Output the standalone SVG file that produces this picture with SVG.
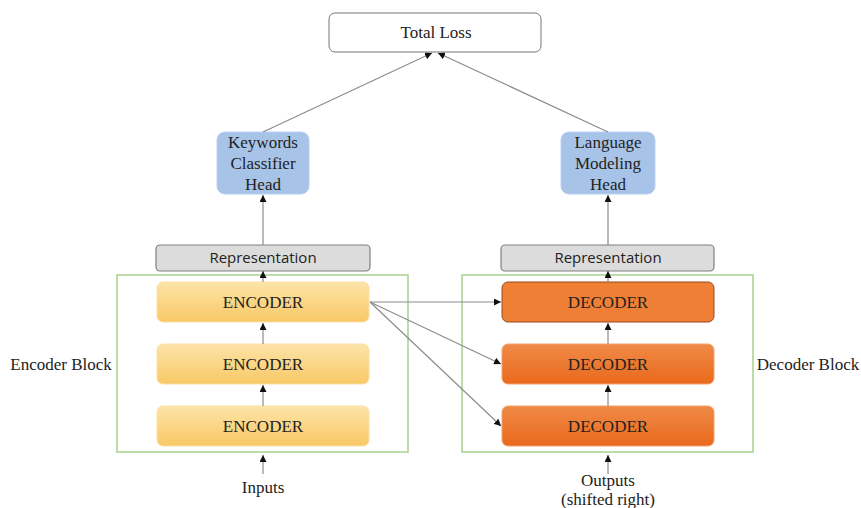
<svg xmlns="http://www.w3.org/2000/svg" width="861" height="508" viewBox="0 0 861 508">
<defs>
<style>
.serif{font-family:"Liberation Serif","Times New Roman",serif;fill:#222;text-anchor:middle;font-size:17px}
.sans{font-family:"Open Sans","Noto Sans",sans-serif;fill:#222;text-anchor:middle;font-size:15px}
.conn{stroke:#8c8c8c;stroke-width:1.2;fill:none;marker-end:url(#ah)}
.block{fill:none;stroke:#a9cf8e;stroke-width:1.5}
.rep{fill:#dcdcdc;stroke:#7f7f7f;stroke-width:1.2}
.head{fill:#a8c3e8;stroke:#b8cff0;stroke-width:1}
.enc{fill:url(#encg);stroke:#fbe0a6;stroke-width:1}
.dec{fill:url(#decg);stroke:#f2a26c;stroke-width:1}
</style>
<linearGradient id="encg" x1="0" y1="0" x2="0" y2="1">
<stop offset="0" stop-color="#fde4a8"/><stop offset="1" stop-color="#f8c865"/>
</linearGradient>
<linearGradient id="decg" x1="0" y1="0" x2="0" y2="1">
<stop offset="0" stop-color="#f08a48"/><stop offset="1" stop-color="#e9691b"/>
</linearGradient>
<marker id="ah" viewBox="0 0 10 10" refX="10" refY="5" markerWidth="7" markerHeight="7" markerUnits="userSpaceOnUse" orient="auto">
<path d="M0,0 L10,5 L0,10 z" fill="#111"/>
</marker>
</defs>
<rect width="861" height="508" fill="#fff"/>

<g id="encoder-block">
<rect class="block" x="117" y="275" width="291" height="177"/>
<text class="serif" x="61" y="370">Encoder Block</text>
</g>
<g id="decoder-block">
<rect class="block" x="462" y="275" width="291" height="177"/>
<text class="serif" x="808" y="370">Decoder Block</text>
</g>

<g id="total-loss">
<rect x="329" y="13" width="212" height="39" rx="6" fill="#fff" stroke="#777" stroke-width="1"/>
<text class="serif" x="436" y="38">Total Loss</text>
</g>
<g id="keywords-head">
<rect class="head" x="217" y="132" width="92" height="62" rx="8"/>
<text class="serif" x="263" y="148">Keywords</text>
<text class="serif" x="263" y="169">Classifier</text>
<text class="serif" x="263" y="190">Head</text>
</g>
<g id="lm-head">
<rect class="head" x="561" y="132" width="94" height="62" rx="8"/>
<text class="serif" x="608" y="148">Language</text>
<text class="serif" x="608" y="169">Modeling</text>
<text class="serif" x="608" y="190">Head</text>
</g>
<g id="rep-left">
<rect class="rep" x="156" y="245" width="214" height="26" rx="4"/>
<text class="sans" x="263" y="263">Representation</text>
</g>
<g id="rep-right">
<rect class="rep" x="501" y="245" width="213" height="26" rx="4"/>
<text class="sans" x="608" y="263">Representation</text>
</g>
<g id="encoder-1">
<rect class="enc" x="157" y="282" width="212" height="40" rx="6"/>
<text class="serif" x="263" y="308">ENCODER</text>
</g>
<g id="encoder-2">
<rect class="enc" x="157" y="344" width="212" height="40" rx="6"/>
<text class="serif" x="263" y="370">ENCODER</text>
</g>
<g id="encoder-3">
<rect class="enc" x="157" y="406" width="212" height="40" rx="6"/>
<text class="serif" x="263" y="432">ENCODER</text>
</g>
<g id="decoder-1">
<rect x="502" y="282" width="212" height="40" rx="6" fill="#ee7f35" stroke="#9a4a1a" stroke-width="1"/>
<text class="serif" x="608" y="308">DECODER</text>
</g>
<g id="decoder-2">
<rect class="dec" x="502" y="344" width="212" height="40" rx="6"/>
<text class="serif" x="608" y="370">DECODER</text>
</g>
<g id="decoder-3">
<rect class="dec" x="502" y="406" width="212" height="40" rx="6"/>
<text class="serif" x="608" y="432">DECODER</text>
</g>
<g id="inputs">
<text class="serif" x="263" y="493">Inputs</text>
</g>
<g id="outputs">
<text class="serif" x="608" y="486">Outputs</text>
<text class="serif" x="608" y="505">(shifted right)</text>
</g>

<g id="connectors">
<line class="conn" x1="263" y1="474" x2="263" y2="455"/>
<line class="conn" x1="263" y1="406" x2="263" y2="385"/>
<line class="conn" x1="263" y1="344" x2="263" y2="323"/>
<line class="conn" x1="263" y1="282" x2="263" y2="271"/>
<line class="conn" x1="263" y1="245" x2="263" y2="195"/>
<line class="conn" x1="263" y1="132" x2="432" y2="53"/>
<line class="conn" x1="608" y1="474" x2="608" y2="455"/>
<line class="conn" x1="608" y1="406" x2="608" y2="385"/>
<line class="conn" x1="608" y1="344" x2="608" y2="323"/>
<line class="conn" x1="608" y1="282" x2="608" y2="271"/>
<line class="conn" x1="608" y1="245" x2="608" y2="195"/>
<line class="conn" x1="608" y1="132" x2="438" y2="53"/>
<line class="conn" x1="370" y1="302" x2="501" y2="302"/>
<line class="conn" x1="370" y1="302" x2="501" y2="364"/>
<line class="conn" x1="370" y1="302" x2="501" y2="426"/>
</g>
</svg>
